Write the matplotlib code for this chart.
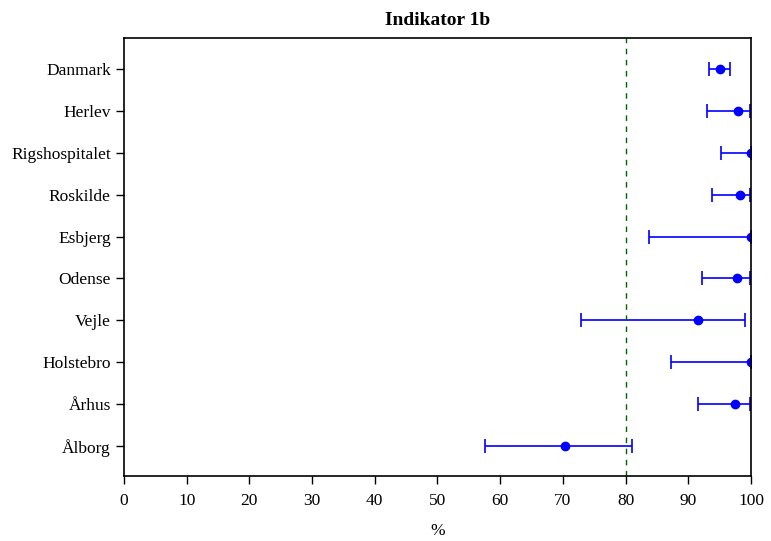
import matplotlib
matplotlib.use("Agg")
import matplotlib.pyplot as plt
import numpy as np

# Data (percent)
sites = ['Danmark', 'Herlev', 'Rigshospitalet', 'Roskilde', 'Esbjerg',
         'Odense', 'Vejle', 'Holstebro', 'Århus', 'Ålborg']
estimate = [95.1, 97.9, 100.0, 98.3, 100.0, 97.7, 91.5, 100.0, 97.5, 70.3]
lower = [93.3, 93.0, 95.2, 93.8, 83.8, 92.2, 72.9, 87.3, 91.6, 57.6]
upper = [96.7, 99.8, 100.0, 99.8, 100.0, 99.8, 99.0, 100.0, 99.8, 81.1]
target = 80
xticks = list(range(0, 101, 10))

plt.rcParams['font.family'] = ['Liberation Serif', 'DejaVu Serif']

fig = plt.figure(figsize=(7.71, 5.41), dpi=100)
ax = fig.add_axes([0.1608, 0.12, 0.8132, 0.8098])

ypos = np.arange(len(sites))[::-1]
est = np.array(estimate)
err = np.vstack([est - np.array(lower), np.array(upper) - est])

ax.errorbar(est, ypos, xerr=err, fmt='o', color='blue', ecolor='blue',
            markersize=6, elinewidth=1.2, capsize=5, capthick=1.2)
ax.axvline(target, color='darkgreen', linestyle=(0, (4, 4)), linewidth=1)

ax.set_xlim(0, 100)
ax.set_ylim(-0.72, 9.74)
ax.set_xticks(xticks)
ax.set_yticks(ypos)
ax.set_yticklabels(sites)
ax.tick_params(axis='both', direction='out', length=6, width=1, labelsize=12.5)
ax.tick_params(axis='x', pad=6)
for s in ax.spines.values():
    s.set_linewidth(1.2)

ax.set_title('Indikator 1b', fontsize=14, fontweight='bold', pad=9)
ax.set_xlabel('%', fontsize=12.5, labelpad=10)

fig.savefig('out.png', dpi=100)
